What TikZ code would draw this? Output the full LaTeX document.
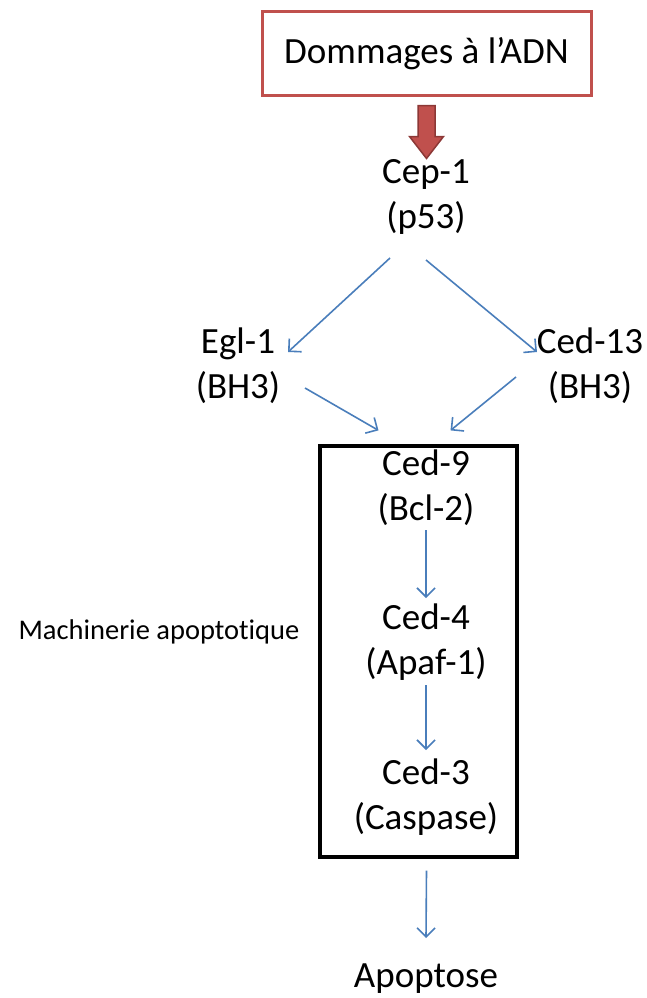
\documentclass[tikz,border=0pt]{standalone}
\usepackage{fontspec}
\setmainfont[Ligatures=NoCommon]{Carlito}
\usetikzlibrary{arrows.meta,calc}
\definecolor{redA}{HTML}{C0504D}
\definecolor{redD}{HTML}{8C3836}
\definecolor{blueA}{HTML}{4A7EBB}
\tikzset{
  lbl/.style={font=\fontsize{37}{45}\selectfont, align=center, inner sep=0pt},
  small/.style={font=\fontsize{28.5}{32}\selectfont, inner sep=0pt},
  bluearrow/.style={draw=blueA, line width=1.6pt, -{Straight Barb[length=9pt,width=18pt,line width=1.6pt]}},
}
\begin{document}
\begin{tikzpicture}[x=1pt,y=-1pt]
\useasboundingbox (0,0) rectangle (646,998);
% top box
\node[lbl, draw=redA, line width=3pt, minimum width=329pt, minimum height=83pt] (dom) at (426.5,53.5) {Dommages à l’ADN};
% main frame
\node[draw=black, line width=3.2pt, minimum width=197pt, minimum height=411pt, inner sep=0pt] (mach) at (418.5,651.5) {};
% texts
\node[lbl] (cep) at (426,197) {Cep-1\\(p53)};
\node[lbl] (egl) at (238,366) {Egl-1\\(BH3)};
\node[lbl] (ced13) at (590,366) {Ced-13\\(BH3)};
\node[lbl] (ced9) at (426,488) {Ced-9\\(Bcl-2)};
\node[lbl] (ced4) at (426,642) {Ced-4\\(Apaf-1)};
\node[lbl] (ced3) at (426,797) {Ced-3\\(Caspase)};
\node[lbl] (apo) at (426,979) {Apoptose};
\node[small] (machlbl) at (159,632) {Machinerie apoptotique};
% red block arrow
\coordinate (rt) at ($(dom.south)+(0,9)$);
\draw[fill=redA, draw=redD, line width=1.5pt]
  ($(rt)+(-8.5,0)$) -- ($(rt)+(8.5,0)$) -- ($(rt)+(8.5,31)$) -- ($(rt)+(17,31)$)
  -- ($(rt)+(0,53)$) -- ($(rt)+(-17,31)$) -- ($(rt)+(-8.5,31)$) -- cycle;
% blue arrows
\draw[bluearrow] ($(cep)+(-36,61)$) -- ($(egl)+(50,-14)$);
\draw[bluearrow] ($(cep)+(0,63)$) -- ($(ced13)+(-53,-14)$);
\draw[bluearrow] ($(egl)+(67,22)$) -- ($(mach.north)+(-40,-14)$);
\draw[bluearrow] ($(ced13)+(-74,11)$) -- ($(mach.north)+(32,-14)$);
\draw[bluearrow] ($(ced9)+(0,42)$) -- ($(ced4)+(0,-44)$);
\draw[bluearrow] ($(ced4)+(0,43)$) -- ($(ced3)+(0,-47)$);
\draw[bluearrow] ($(mach.south)+(8,12)$) -- ($(apo)+(0,-41)$);
\end{tikzpicture}
\end{document}
